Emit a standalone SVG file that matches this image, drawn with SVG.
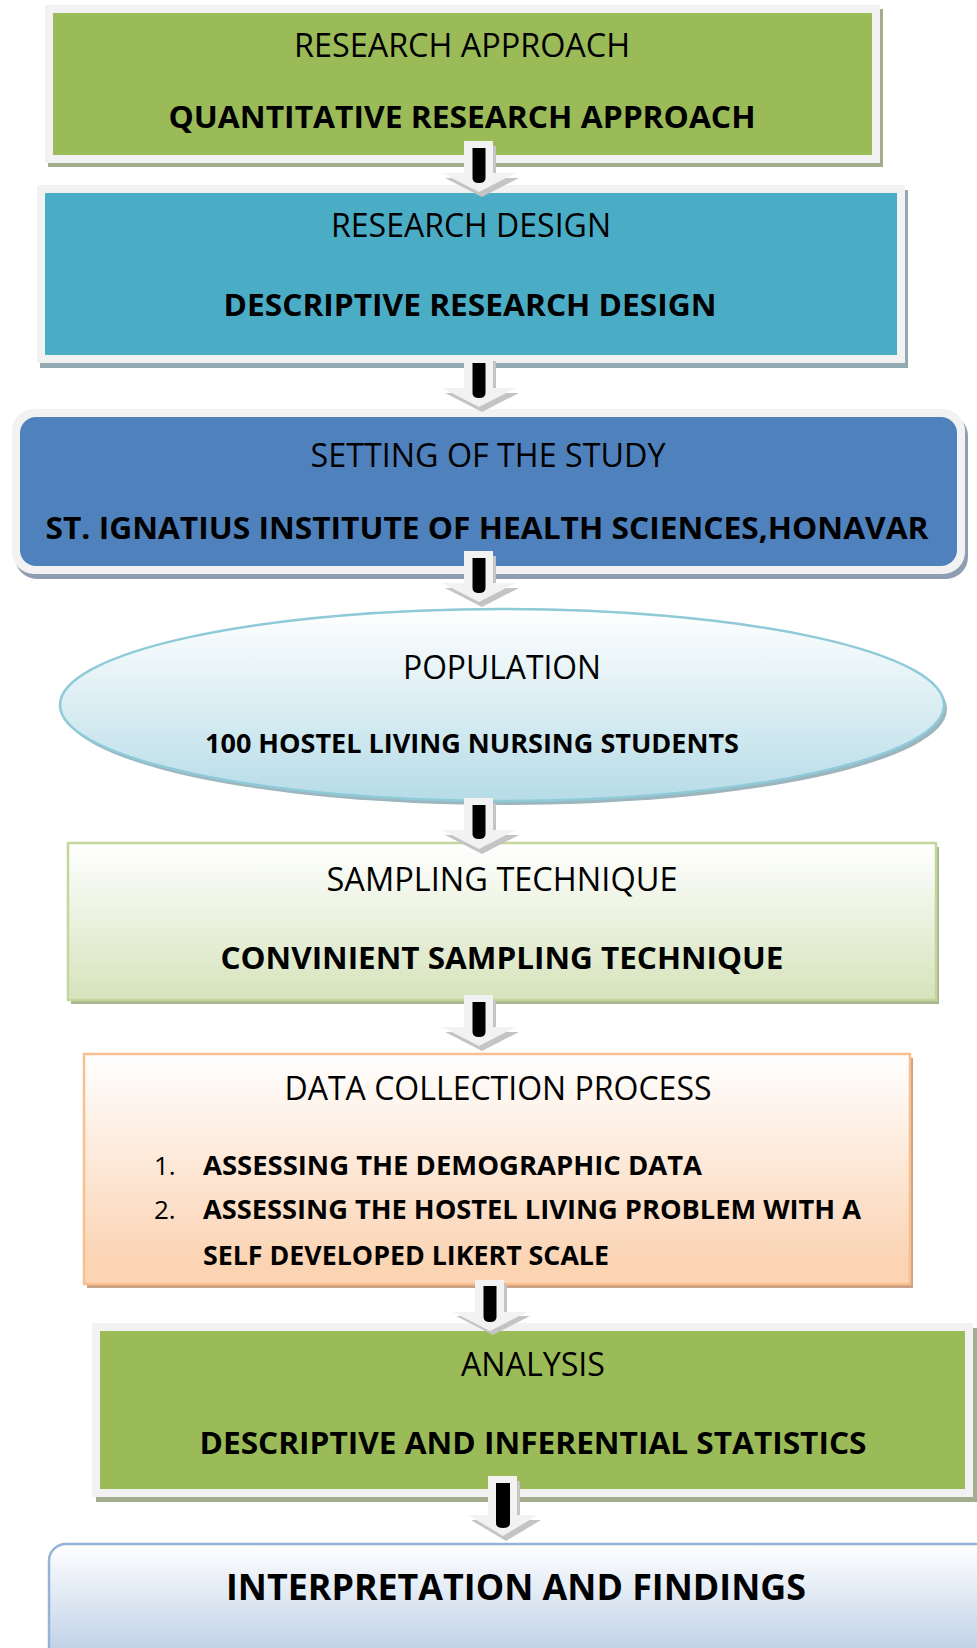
<svg xmlns="http://www.w3.org/2000/svg" width="977" height="1648" viewBox="0 0 977 1648">
<defs>
<style>
text{font-family:"Open Sans","Noto Sans","Liberation Sans",sans-serif;fill:#000;}
.h{font-size:32px;font-weight:400;text-anchor:middle;}
.b{font-size:31px;font-weight:700;text-anchor:middle;}
.li{font-size:26px;font-weight:700;}
.num{font-size:26px;font-weight:400;}
.frame{fill:#f2f2f2;}
.ashadow{fill:#c4c4c4;}
.abody{fill:#f2f2f2;}
.abar{fill:#000;}
</style>
<linearGradient id="gEll" x1="0" y1="0" x2="0" y2="1">
<stop offset="0" stop-color="#ffffff"/><stop offset="1" stop-color="#b6dce7"/>
</linearGradient>
<linearGradient id="gGreen" x1="0" y1="0" x2="0" y2="1">
<stop offset="0" stop-color="#ffffff"/><stop offset="1" stop-color="#d6e3bc"/>
</linearGradient>
<linearGradient id="gPeach" x1="0" y1="0" x2="0" y2="1">
<stop offset="0" stop-color="#ffffff"/><stop offset="0.9" stop-color="#fbd4b4"/><stop offset="1" stop-color="#fbd4b4"/>
</linearGradient>
<linearGradient id="gBlue" x1="0" y1="0" x2="0" y2="1">
<stop offset="0" stop-color="#ffffff"/><stop offset="1" stop-color="#b3c8e2"/>
</linearGradient>
<path id="arrowShort" d="M-15,0 H14 V32 H37 L0,51 L-37,32 H-15 Z"/>
</defs>

<g id="node-research-approach">
<rect x="48" y="9" width="835" height="158" fill="#a4ad8e"/>
<rect class="frame" x="45" y="5" width="835" height="158"/>
<rect x="53" y="13" width="819" height="142" fill="#9bbb59"/>
<text class="h" x="462" y="57" textLength="336" lengthAdjust="spacingAndGlyphs">RESEARCH APPROACH</text>
<text class="b" x="462" y="128" textLength="587" lengthAdjust="spacingAndGlyphs">QUANTITATIVE RESEARCH APPROACH</text>
</g>

<g id="node-research-design">
<rect x="40" y="190" width="868" height="178" fill="#94aab3"/>
<rect class="frame" x="37" y="185" width="868" height="178"/>
<rect x="45" y="193" width="852" height="162" fill="#4bacc6"/>
<text class="h" x="471" y="237" textLength="280" lengthAdjust="spacingAndGlyphs">RESEARCH DESIGN</text>
<text class="b" x="470" y="316" textLength="493" lengthAdjust="spacingAndGlyphs">DESCRIPTIVE RESEARCH DESIGN</text>
</g>

<g id="node-setting">
<rect x="15" y="414" width="953" height="165" rx="22" fill="#8e9db1"/>
<rect class="frame" x="12" y="409" width="953" height="165" rx="22"/>
<rect x="20" y="417" width="937" height="149" rx="16" fill="#4f81bd"/>
<text class="h" x="488" y="467" textLength="355" lengthAdjust="spacingAndGlyphs">SETTING OF THE STUDY</text>
<text class="b" x="487" y="539" textLength="883" lengthAdjust="spacingAndGlyphs">ST. IGNATIUS INSTITUTE OF HEALTH SCIENCES,HONAVAR</text>
</g>

<g id="node-population">
<ellipse cx="505" cy="709" rx="442" ry="96" fill="#9db6be"/>
<ellipse cx="502" cy="705" rx="442" ry="96" fill="url(#gEll)" stroke="#8fcad9" stroke-width="2.5"/>
<text class="h" x="502" y="679" textLength="198" lengthAdjust="spacingAndGlyphs">POPULATION</text>
<text class="b" x="472" y="753" style="font-size:27px" textLength="534" lengthAdjust="spacingAndGlyphs">100 HOSTEL LIVING NURSING STUDENTS</text>
</g>

<g id="node-sampling">
<rect x="71" y="847" width="868" height="157" fill="#a9b590"/>
<rect x="68" y="843" width="868" height="157" fill="url(#gGreen)" stroke="#c3d69b" stroke-width="2.5"/>
<text class="h" x="502" y="891" textLength="351" lengthAdjust="spacingAndGlyphs">SAMPLING TECHNIQUE</text>
<text class="b" x="502" y="969" textLength="563" lengthAdjust="spacingAndGlyphs">CONVINIENT SAMPLING TECHNIQUE</text>
</g>

<g id="node-data-collection">
<rect x="87" y="1058" width="826" height="230" fill="#c9a285"/>
<rect x="84" y="1054" width="826" height="230" fill="url(#gPeach)" stroke="#fabf8f" stroke-width="2.5"/>
<text class="h" x="498" y="1100" textLength="427" lengthAdjust="spacingAndGlyphs">DATA COLLECTION PROCESS</text>
<text class="num" x="154" y="1175">1.</text>
<text class="li" x="203" y="1175" textLength="499" lengthAdjust="spacingAndGlyphs">ASSESSING THE DEMOGRAPHIC DATA</text>
<text class="num" x="154" y="1219">2.</text>
<text class="li" x="203" y="1219" textLength="658" lengthAdjust="spacingAndGlyphs">ASSESSING THE HOSTEL LIVING PROBLEM WITH A</text>
<text class="li" x="203" y="1265" textLength="406" lengthAdjust="spacingAndGlyphs">SELF DEVELOPED LIKERT SCALE</text>
</g>

<g id="node-analysis">
<rect x="96" y="1328" width="881" height="174" fill="#a4ad8e"/>
<rect class="frame" x="92" y="1323" width="881" height="174"/>
<rect x="100" y="1331" width="865" height="158" fill="#9bbb59"/>
<text class="h" x="533" y="1376" textLength="144" lengthAdjust="spacingAndGlyphs">ANALYSIS</text>
<text class="b" x="533" y="1454" textLength="667" lengthAdjust="spacingAndGlyphs">DESCRIPTIVE AND INFERENTIAL STATISTICS</text>
</g>

<g id="node-interpretation">
<rect x="49" y="1544" width="945" height="130" rx="17" fill="url(#gBlue)" stroke="#95b3d7" stroke-width="2.5"/>
<text class="b" x="516" y="1600" style="font-size:35px" textLength="580" lengthAdjust="spacingAndGlyphs">INTERPRETATION AND FINDINGS</text>
</g>

<g id="connectors">
<g transform="translate(479,141)">
<use href="#arrowShort" class="ashadow" x="3" y="5"/><use href="#arrowShort" class="abody"/>
<path class="abar" d="M-6.5,7 H6.5 V37 Q6.5,42 0,42 Q-6.5,42 -6.5,37 Z"/>
</g>
<g transform="translate(479,356)">
<use href="#arrowShort" class="ashadow" x="3" y="5"/><use href="#arrowShort" class="abody"/>
<path class="abar" d="M-6.5,7 H6.5 V37 Q6.5,42 0,42 Q-6.5,42 -6.5,37 Z"/>
</g>
<g transform="translate(479,551)">
<use href="#arrowShort" class="ashadow" x="3" y="5"/><use href="#arrowShort" class="abody"/>
<path class="abar" d="M-6.5,7 H6.5 V37 Q6.5,42 0,42 Q-6.5,42 -6.5,37 Z"/>
</g>
<g transform="translate(479,798)">
<use href="#arrowShort" class="ashadow" x="3" y="5"/><use href="#arrowShort" class="abody"/>
<path class="abar" d="M-6.5,7 H6.5 V36 Q6.5,41 0,41 Q-6.5,41 -6.5,36 Z"/>
</g>
<g transform="translate(479,995)">
<use href="#arrowShort" class="ashadow" x="3" y="5"/><use href="#arrowShort" class="abody"/>
<path class="abar" d="M-6.5,7 H6.5 V37 Q6.5,42 0,42 Q-6.5,42 -6.5,37 Z"/>
</g>
<g transform="translate(490,1279)">
<use href="#arrowShort" class="ashadow" x="3" y="5"/><use href="#arrowShort" class="abody" transform="translate(0,1)"/>
<path class="abar" d="M-6.5,7 H6.5 V38 Q6.5,43 0,43 Q-6.5,43 -6.5,38 Z"/>
</g>
<g transform="translate(503,1476)">
<path class="ashadow" transform="translate(3,5)" d="M-15,0 H14 V39 H35 L0,60 L-35,39 H-15 Z"/>
<path class="abody" d="M-15,0 H14 V39 H35 L0,60 L-35,39 H-15 Z"/>
<path class="abar" d="M-7,7 H7 V47 Q7,52 0,52 Q-7,52 -7,47 Z"/>
</g>
</g>
</svg>
